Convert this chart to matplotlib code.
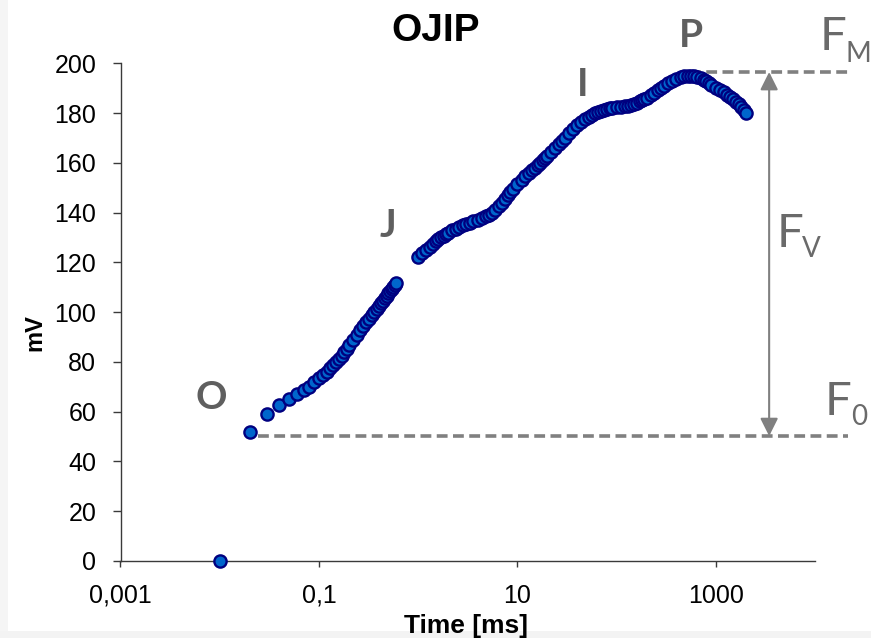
import matplotlib
matplotlib.use('Agg')
import matplotlib.pyplot as plt
from matplotlib.patches import Rectangle
from matplotlib.ticker import FixedLocator, FixedFormatter, NullLocator

# ---------------- data ----------------
time_oj = [0.01, 0.02, 0.03, 0.04, 0.05, 0.06, 0.07, 0.08, 0.09, 0.10,
           0.11, 0.12, 0.13, 0.14, 0.15, 0.16, 0.17, 0.18, 0.19, 0.20,
           0.22, 0.24, 0.26, 0.28, 0.30, 0.32, 0.34, 0.36, 0.38, 0.40,
           0.42, 0.44, 0.46, 0.48, 0.50, 0.52, 0.54, 0.56, 0.58, 0.60]
mv_oj = [0.0, 52.0, 59.0, 62.6, 65.2, 67.0, 68.6, 70.1, 71.8, 73.4,
         74.8, 76.1, 77.4, 78.6, 79.8, 81.1, 82.4, 83.8, 85.3, 86.8,
         89.0, 90.9, 92.7, 94.4, 96.0, 97.4, 98.8, 100.1, 101.3, 102.5,
         103.6, 104.6, 105.6, 106.6, 107.5, 108.4, 109.3, 110.1, 110.9, 111.6]

time_jp = [1.0, 1.1, 1.2, 1.3, 1.4, 1.5, 1.6, 1.7, 1.8, 1.9,
           2.0, 2.2, 2.4, 2.6, 2.8, 3.0, 3.3, 3.6, 4.0, 4.4,
           4.8, 5.2, 5.6, 6.0, 6.5, 7.0, 7.5, 8.0, 8.5, 9.0,
           10, 11, 12, 13, 14, 15, 16, 17, 18, 19,
           20, 22, 24, 26, 28, 30, 33, 36, 40, 44,
           48, 52, 56, 60, 65, 70, 75, 80, 85, 90,
           100, 110, 120, 130, 140, 150, 160, 170, 180, 190,
           200, 220, 240, 260, 280, 300, 330, 360, 400, 440,
           480, 520, 560, 600, 650, 700, 750, 800, 850, 900,
           1000, 1100, 1200, 1300, 1400, 1500, 1600, 1700, 1800, 1900,
           2000]
mv_jp = [122.0, 123.6, 125.0, 126.2, 127.4, 128.4, 129.3, 130.1, 130.8, 131.4,
         132.0, 132.9, 133.6, 134.3, 134.9, 135.4, 136.0, 136.5, 137.2, 137.8,
         138.5, 139.2, 140.0, 141.0, 142.5, 144.0, 145.5, 147.0, 148.3, 149.5,
         151.5, 153.2, 154.6, 155.8, 157.0, 158.0, 159.0, 160.0, 161.0, 162.0,
         162.9, 164.5, 166.0, 167.4, 168.7, 170.0, 171.8, 173.4, 175.2, 176.6,
         177.7, 178.6, 179.3, 179.9, 180.5, 181.0, 181.4, 181.7, 182.0, 182.2,
         182.5, 182.6, 182.7, 183.0, 183.4, 183.8, 184.2, 184.7, 185.2, 185.7,
         186.2, 187.2, 188.2, 189.2, 190.0, 190.8, 191.9, 192.8, 193.8, 194.4,
         194.8, 195.0, 195.0, 194.8, 194.4, 193.9, 193.3, 192.7, 192.0, 191.4,
         190.2, 189.4, 188.4, 187.4, 186.4, 185.5, 184.5, 183.5, 182.3, 181.1,
         179.9]

x_ticks = [0.001, 0.1, 10, 1000]
x_tick_labels = ['0,001', '0,1', '10', '1000']
y_ticks = [0, 20, 40, 60, 80, 100, 120, 140, 160, 180, 200]

F0_level = 50.2
FM_level = 196.5
f0_line_x = [0.0243, 21400]
fm_line_x = [550, 21400]
arrow_x = 3435

# ---------------- figure ----------------
W, H = 871, 638
fig = plt.figure(figsize=(W / 100, H / 100), dpi=100)
fig.patch.set_facecolor('white')
fig.patches.append(Rectangle((0, 0), 8 / W, 1, transform=fig.transFigure,
                             facecolor='#f5f5f5', edgecolor='none', zorder=0))
fig.patches.append(Rectangle((0, 0), 1, 7 / H, transform=fig.transFigure,
                             facecolor='#f3f3f3', edgecolor='none', zorder=0))

def fx(px):
    return px / W

def fy(py):
    return 1 - py / H

ax = fig.add_axes([fx(120.5), fy(561), (815.2 - 120.5) / W, (561 - 63.3) / H])
ax.set_facecolor('none')
ax.set_xscale('log')
ax.set_xlim(0.001, 10000)
ax.set_ylim(0, 200)

ax.xaxis.set_major_locator(FixedLocator(x_ticks))
ax.xaxis.set_major_formatter(FixedFormatter(x_tick_labels))
ax.xaxis.set_minor_locator(NullLocator())
ax.set_yticks(y_ticks)

for s in ['top', 'right']:
    ax.spines[s].set_visible(False)
for s in ['left', 'bottom']:
    ax.spines[s].set_color('#3a3a3a')
    ax.spines[s].set_linewidth(1.0)

ax.tick_params(axis='y', length=5.5, width=1.0, color='#3a3a3a', pad=12,
               labelsize=18, labelcolor='black')
ax.tick_params(axis='x', length=4.5, width=1.0, color='#3a3a3a', pad=12,
               labelsize=18, labelcolor='black')
for lab in ax.get_xticklabels() + ax.get_yticklabels():
    lab.set_fontfamily(['Liberation Sans', 'DejaVu Sans'])

# data points
mk = dict(linestyle='none', marker='o', markersize=8.8, markerfacecolor='#0066CC',
          markeredgecolor='#000080', markeredgewidth=1.7, clip_on=False, zorder=3)
ax.plot(time_oj, mv_oj, **mk)
ax.plot(time_jp, mv_jp, **mk)

# F0 / FM dashed lines and Fv arrow
dash = dict(color='#808080', linewidth=2.6, linestyle=(0, (3.0, 1.5)),
            clip_on=False, zorder=2, solid_capstyle='butt', dash_capstyle='butt')
ax.plot(f0_line_x, [F0_level, F0_level], **dash)
ax.plot(fm_line_x, [FM_level, FM_level], **dash)
ax.annotate('', xy=(arrow_x, FM_level), xytext=(arrow_x, F0_level),
            arrowprops=dict(arrowstyle='<|-|>,head_length=0.4,head_width=0.2',
                            color='#808080', lw=1.5, mutation_scale=27,
                            shrinkA=0, shrinkB=0),
            annotation_clip=False, zorder=2)

# title and axis labels
fig.text(fx(436), fy(31), 'OJIP', ha='center', va='center', fontsize=28,
         fontweight='bold', family=['Liberation Sans', 'DejaVu Sans'])
fig.text(fx(466), fy(626), 'Time [ms]', ha='center', va='center', fontsize=19,
         fontweight='bold', family=['Liberation Sans', 'DejaVu Sans'])
fig.text(fx(35), fy(333), 'mV', ha='center', va='center', rotation=90, fontsize=17,
         fontweight='bold', family=['Liberation Sans', 'DejaVu Sans'])

# O J I P labels
lab_kw = dict(ha='center', va='baseline', fontsize=28, fontweight='bold',
              color='#5f5f5f', family=['Lato', 'DejaVu Sans'])
fig.text(fx(211.5), fy(409), 'O', **lab_kw)
fig.text(fx(388), fy(237), 'J', **lab_kw)
fig.text(fx(583), fy(96), 'I', **lab_kw)
fig.text(fx(691), fy(47), 'P', **lab_kw)

# F labels
big = dict(ha='left', va='baseline', fontsize=34, fontweight='normal',
           color='#6a6a6a', family=['Lato', 'DejaVu Sans'])
small = dict(ha='left', va='baseline', fontsize=20, fontweight='normal',
             color='#6a6a6a', family=['Lato', 'DejaVu Sans'])
fig.text(fx(820), fy(50), 'F', **big)
fig.text(fx(845), fy(62), 'M', **small)
fig.text(fx(777), fy(247), 'F', **big)
fig.text(fx(802), fy(257), 'V', **small)
fig.text(fx(825), fy(415), 'F', **big)
fig.text(fx(851), fy(425), '0', **small)

fig.savefig('out.png', dpi=100)
